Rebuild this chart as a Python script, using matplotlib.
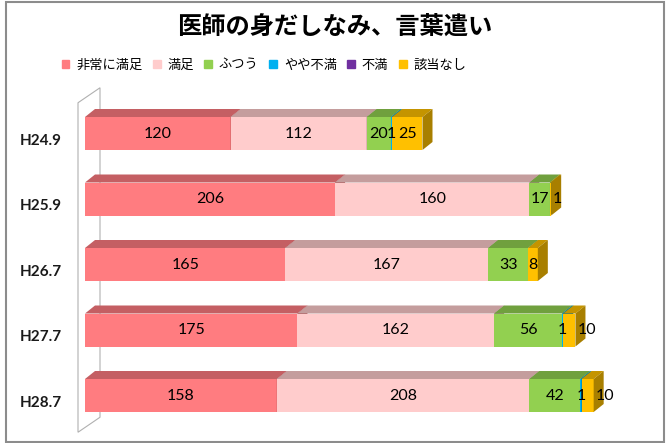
import matplotlib
matplotlib.use("Agg")
import matplotlib.pyplot as plt
from matplotlib.patches import Polygon, Rectangle
from matplotlib.colors import to_rgb

plt.rcParams['font.family'] = ['Noto Sans CJK JP', 'DejaVu Sans']

# データ
periods = ['H24.9', 'H25.9', 'H26.7', 'H27.7', 'H28.7']
categories = ['非常に満足', '満足', 'ふつう', 'やや不満', '不満', '該当なし']
hijou_manzoku = [120, 206, 165, 175, 158]
manzoku = [112, 160, 167, 162, 208]
futsuu = [20, 17, 33, 56, 42]
yaya_fuman = [1, 0, 0, 1, 1]
fuman = [0, 0, 0, 0, 0]
gaitou_nashi = [25, 1, 8, 10, 10]
series = [hijou_manzoku, manzoku, futsuu, yaya_fuman, fuman, gaitou_nashi]
colors = ['#FF7C80', '#FFCCCC', '#92D050', '#00B0F0', '#7030A0', '#FFC000']

W, H = 670, 443
fig = plt.figure(figsize=(W / 100, H / 100), dpi=100)
ax = fig.add_axes([0, 0, 1, 1])
ax.set_axis_off()

# 軸のスケール (px)
x0_px, px_per_unit = 85, 1.214
y0_px, px_per_row = 133.5, 65.5
ax.set_xlim(-x0_px / px_per_unit, (W - x0_px) / px_per_unit)
ax.set_ylim((H - y0_px) / px_per_row, -y0_px / px_per_row)

def dx(px):
    return px / px_per_unit

def dy(px):
    return px / px_per_row

depth_x, depth_y = dx(10), dy(8)
bar_h = dy(33)

def shade(c, f):
    r, g, b = to_rgb(c)
    return (r * f, g * f, b * f)

# 奥の壁
wx0, wx1 = dx(-7), dx(15)
wtop, wbot = -0.5 + dy(2), len(periods) - 0.5 + dy(4)
wall = Polygon([(wx0, wtop), (wx1, wtop - dy(15)), (wx1, wbot - dy(15)), (wx0, wbot)],
               closed=True, facecolor='none', edgecolor='#B0B0B0', lw=0.8, zorder=1)
ax.add_patch(wall)

label_font = ['Lato', 'DejaVu Sans']
z = 2
for i, p in enumerate(periods):
    left = 0
    nonzero = [s for s in range(len(series)) if series[s][i] > 0]
    for s, vals in enumerate(series):
        v = vals[i]
        if v == 0:
            continue
        c = colors[s]
        top = i - bar_h / 2
        bot = i + bar_h / 2
        ax.barh(i, v, left=left, height=bar_h, color=c, zorder=z)
        ax.add_patch(Polygon([(left, top), (left + depth_x, top - depth_y),
                              (left + v + depth_x, top - depth_y), (left + v, top)],
                             closed=True, facecolor=shade(c, 0.77), edgecolor='none', zorder=z))
        ax.add_patch(Polygon([(left + v, top), (left + v + depth_x, top - depth_y),
                              (left + v + depth_x, bot - depth_y), (left + v, bot)],
                             closed=True, facecolor=shade(c, 0.66), edgecolor='none', zorder=z))
        txt = str(v)
        if s == nonzero[-1] and len(txt) * 7 > v * px_per_unit:
            # 幅が足りない最後の系列はバーの右へ
            ax.text(left + v + dx(2), i, txt, ha='left', va='center', fontsize=11.5,
                    family=label_font, color='black', zorder=50)
        else:
            ax.text(left + v / 2, i, txt, ha='center', va='center', fontsize=11.5,
                    family=label_font, color='black', zorder=50)
        left += v
        z += 1
    ax.text(dx(-23), i + dy(7), p, ha='right', va='center', fontsize=11,
            fontweight='bold', family=label_font, color='#1a1a1a')

# タイトル
fig.text(0.5, 1 - 27 / H, '医師の身だしなみ、言葉遣い', ha='center', va='center',
         fontsize=17.5, fontweight='bold')

# 凡例
handles = [Rectangle((0, 0), 1, 1, color=c) for c in colors]
fig.legend(handles, categories, loc='center', bbox_to_anchor=(264 / W, 1 - 65 / H),
           ncol=6, frameon=False, fontsize=9.5, handlelength=0.6, handleheight=0.6,
           handletextpad=0.5, columnspacing=0.8)

# 外枠
fig.patches.append(Rectangle((6 / W, 1 / H), 658 / W, 440 / H, transform=fig.transFigure,
                             fill=False, edgecolor='#8C8C8C', lw=1.5))

fig.savefig('out.png', dpi=100)
